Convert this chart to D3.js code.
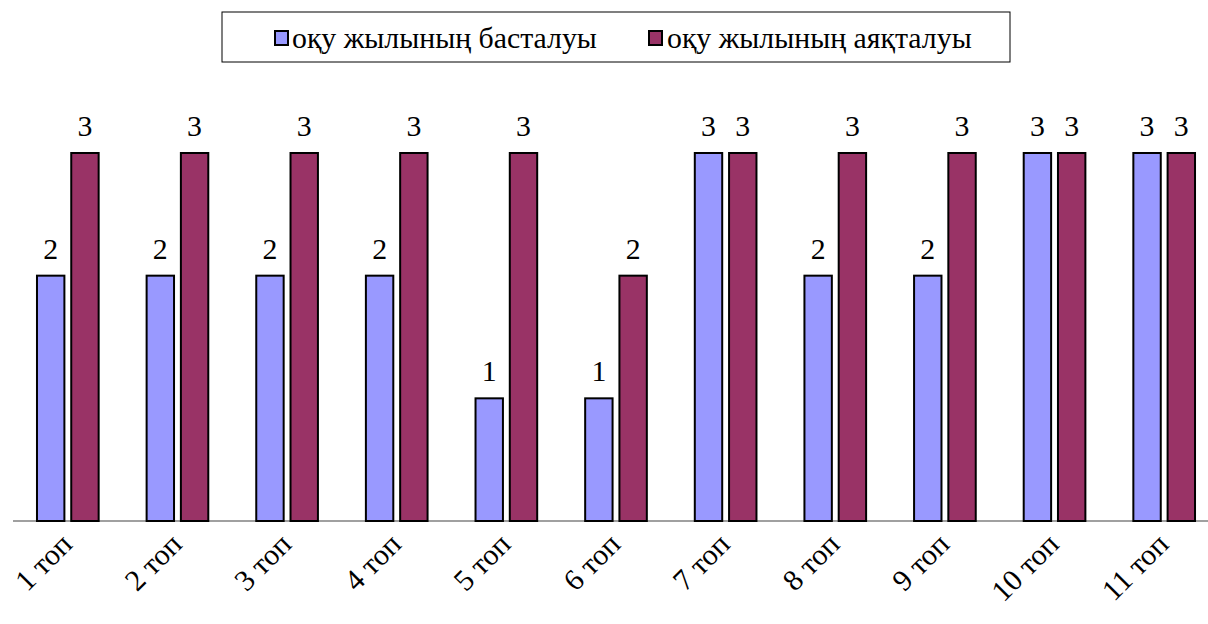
<!DOCTYPE html>
<html><head><meta charset="utf-8">
<script src="https://cdn.jsdelivr.net/npm/d3@7"></script>
</head><body>
<script>
const categories = ["1 топ","2 топ","3 топ","4 топ","5 топ","6 топ","7 топ","8 топ","9 топ","10 топ","11 топ"];
const seriesNames = ["оқу жылының басталуы","оқу жылының аяқталуы"];
const startValues = [2,2,2,2,1,1,3,2,2,3,3];
const endValues = [3,3,3,3,3,2,3,3,3,3,3];
const colors = ["#9999ff","#993366"];
const serifCandidates = ["Liberation Serif","Tinos","Times New Roman","Noto Serif","DejaVu Serif"];
const sansRefs = ["Liberation Sans","Arimo","Arial","DejaVu Sans","Noto Sans"];

const W=1208,H=624;
d3.select("body").style("margin","0px");
const svg=d3.select("body").append("svg").attr("width",W).attr("height",H).style("display","block");

// pick a serif family that really renders differently from the sans families
function widthOf(f){
  const t=svg.append("text").style("font-family",`"${f}"`).attr("font-size",40).text("Hamburgefonstiv 3210 оқу жылының");
  const w=t.node().getComputedTextLength(); t.remove(); return w;
}
const sansW=sansRefs.map(widthOf);
let fam='"Noto Serif"';
for(const f of serifCandidates){
  const w=widthOf(f);
  if(sansW.every(s=>Math.abs(s-w)>0.5)){fam=`"${f}"`;break;}
}

const probe=svg.append("text").style("font-family",fam).attr("font-size",28).text(seriesNames[0]);
let fs=28*305/probe.node().getComputedTextLength();
if(!isFinite(fs)) fs=28;
fs=Math.max(22,Math.min(34,fs));
probe.remove();

const x=d3.scaleBand().domain(categories).range([13,1219]).paddingInner(0).paddingOuter(0);
const xs=d3.scaleBand().domain([0,1]).range([0,x.bandwidth()]).paddingInner(0.2).paddingOuter(0.7);
const y=d3.scaleLinear().domain([0,3]).range([521,153]);

const data=categories.map((c,i)=>({c,v:[startValues[i],endValues[i]]}));

svg.append("line").attr("x1",13).attr("x2",W).attr("y1",y(0)).attr("y2",y(0)).attr("stroke","#808080").attr("stroke-width",1.5);

const g=svg.selectAll("g.grp").data(data).enter().append("g").attr("transform",d=>`translate(${x(d.c)},0)`);
g.selectAll("rect").data(d=>d.v.map((v,k)=>({v,k}))).enter().append("rect")
 .attr("x",d=>xs(d.k)).attr("width",xs.bandwidth())
 .attr("y",d=>y(d.v)).attr("height",d=>y(0)-y(d.v))
 .attr("fill",d=>colors[d.k]).attr("stroke","#000").attr("stroke-width",2);
g.selectAll("text").data(d=>d.v.map((v,k)=>({v,k}))).enter().append("text")
 .style("font-family",fam).attr("font-size",fs)
 .attr("x",d=>xs(d.k)+xs.bandwidth()/2).attr("y",d=>y(d.v)-17)
 .attr("text-anchor","middle").text(d=>d.v);

svg.selectAll("text.xl").data(categories).enter().append("text").attr("class","xl")
 .style("font-family",fam).attr("font-size",fs)
 .attr("transform",d=>`translate(${x(d)+x.bandwidth()/2+6},${546}) rotate(-45)`)
 .attr("text-anchor","end").text(d=>d);

const lg=svg.append("g");
lg.append("rect").attr("x",222).attr("y",12).attr("width",788).attr("height",50).attr("fill","#fff").attr("stroke","#000").attr("stroke-width",1);
const items=[{x:275,tx:292},{x:649,tx:667}];
seriesNames.forEach((n,i)=>{
  lg.append("rect").attr("x",items[i].x).attr("y",31).attr("width",13).attr("height",14).attr("fill",colors[i]).attr("stroke","#000").attr("stroke-width",2);
  lg.append("text").style("font-family",fam).attr("font-size",fs).attr("x",items[i].tx).attr("y",48).text(n);
});
</script>
</body></html>
